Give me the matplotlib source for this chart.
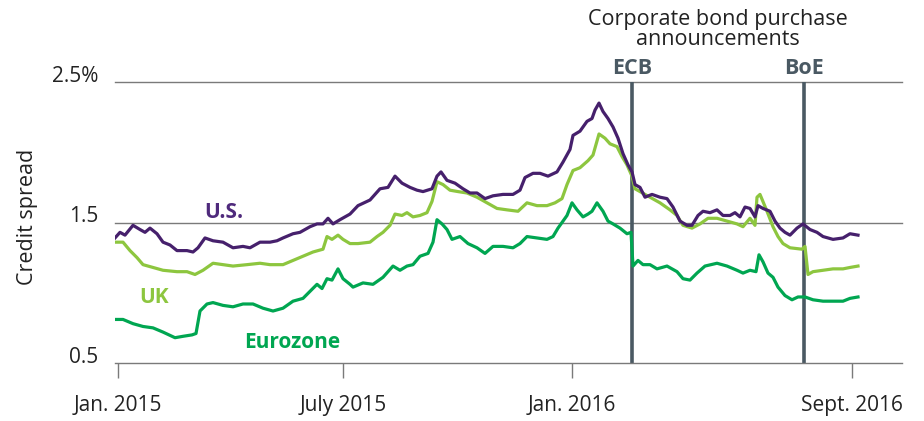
import numpy as np
import matplotlib
matplotlib.use("Agg")
import matplotlib.pyplot as plt

# chart position (the source axis is not date-linear), values in %
us_t = [-3, 2, 7, 15, 22, 27, 32, 39, 45, 52, 59, 69, 75, 80, 87, 95, 105, 115, 125, 132,
        142, 152, 159, 165, 175, 182, 192, 199, 205, 210, 215, 222, 232, 240, 252, 262, 270,
        277, 284, 292, 299, 305, 314, 319, 323, 329, 337, 345, 352, 359, 367, 375, 385, 395,
        402, 407, 415, 422, 430, 439, 445, 452, 455, 462, 469, 474, 477, 481, 485, 490, 495,
        500, 505, 510, 514, 517, 522, 527, 534, 542, 549, 555, 562, 569, 574, 580, 585, 592,
        599, 605, 612, 617, 622, 627, 632, 637, 640, 645, 652, 657, 662, 667, 672, 679, 685,
        692, 699, 705, 715, 725, 732, 740]
us_v = [1.39, 1.43, 1.41, 1.48, 1.45, 1.43, 1.46, 1.42, 1.36, 1.34, 1.30, 1.30, 1.29, 1.32,
        1.39, 1.37, 1.36, 1.32, 1.33, 1.32, 1.36, 1.36, 1.37, 1.39, 1.42, 1.43, 1.47, 1.49,
        1.49, 1.53, 1.49, 1.52, 1.56, 1.62, 1.66, 1.74, 1.75, 1.83, 1.78, 1.75, 1.73, 1.72,
        1.74, 1.83, 1.86, 1.80, 1.78, 1.74, 1.71, 1.71, 1.67, 1.69, 1.70, 1.70, 1.73, 1.82,
        1.85, 1.85, 1.83, 1.86, 1.93, 2.02, 2.12, 2.15, 2.22, 2.24, 2.30, 2.35, 2.29, 2.24,
        2.18, 2.10, 1.99, 1.91, 1.86, 1.77, 1.75, 1.68, 1.70, 1.68, 1.67, 1.61, 1.51, 1.48,
        1.48, 1.55, 1.58, 1.57, 1.59, 1.55, 1.55, 1.57, 1.54, 1.61, 1.60, 1.54, 1.62, 1.60,
        1.58, 1.51, 1.46, 1.43, 1.41, 1.46, 1.49, 1.45, 1.43, 1.40, 1.38, 1.39, 1.42, 1.41]

uk_t = [-3, 5, 12, 19, 25, 35, 45, 59, 69, 77, 85, 95, 105, 115, 129, 142, 152, 165, 175, 185,
        195, 205, 209, 214, 220, 225, 232, 240, 252, 259, 265, 272, 277, 284, 289, 295, 302,
        309, 314, 319, 325, 332, 340, 349, 359, 369, 379, 389, 400, 409, 419, 429, 437, 444,
        449, 455, 462, 470, 475, 479, 481, 487, 492, 499, 504, 509, 514, 517, 522, 532, 542,
        552, 559, 565, 574, 582, 590, 599, 609, 619, 625, 632, 637, 639, 642, 649, 655, 660,
        665, 672, 684, 687, 690, 695, 705, 715, 725, 732, 740]
uk_v = [1.36, 1.36, 1.30, 1.25, 1.20, 1.18, 1.16, 1.15, 1.15, 1.13, 1.16, 1.21, 1.20, 1.19,
        1.20, 1.21, 1.20, 1.20, 1.23, 1.26, 1.29, 1.31, 1.40, 1.38, 1.41, 1.38, 1.35, 1.35,
        1.36, 1.40, 1.43, 1.48, 1.56, 1.55, 1.57, 1.54, 1.55, 1.57, 1.65, 1.79, 1.77, 1.73,
        1.72, 1.71, 1.68, 1.64, 1.60, 1.59, 1.58, 1.64, 1.62, 1.62, 1.64, 1.67, 1.77, 1.87,
        1.89, 1.94, 1.98, 2.08, 2.13, 2.10, 2.06, 2.04, 1.97, 1.91, 1.83, 1.74, 1.72, 1.68,
        1.64, 1.59, 1.55, 1.48, 1.46, 1.49, 1.53, 1.53, 1.51, 1.49, 1.47, 1.53, 1.48, 1.68,
        1.70, 1.58, 1.47, 1.40, 1.35, 1.32, 1.31, 1.33, 1.13, 1.15, 1.16, 1.17, 1.17, 1.18, 1.19]

ez_t = [-3, 5, 15, 25, 35, 45, 57, 65, 74, 78, 82, 89, 95, 105, 115, 125, 135, 145, 155, 165,
        175, 185, 192, 199, 204, 209, 214, 220, 225, 232, 235, 245, 255, 265, 275, 282, 289,
        295, 302, 310, 315, 319, 324, 329, 334, 342, 350, 359, 367, 375, 385, 395, 402, 409,
        419, 429, 435, 440, 449, 454, 459, 465, 470, 474, 479, 485, 490, 495, 502, 509, 513,
        515, 520, 525, 532, 539, 549, 559, 565, 572, 579, 587, 599, 609, 619, 625, 632, 638,
        641, 645, 650, 655, 660, 667, 674, 680, 687, 695, 705, 715, 725, 732, 740]
ez_v = [0.81, 0.81, 0.78, 0.76, 0.75, 0.72, 0.68, 0.69, 0.70, 0.71, 0.87, 0.92, 0.93, 0.91,
        0.90, 0.92, 0.92, 0.89, 0.87, 0.89, 0.94, 0.96, 1.01, 1.06, 1.03, 1.10, 1.09, 1.17,
        1.10, 1.06, 1.04, 1.07, 1.06, 1.11, 1.19, 1.16, 1.19, 1.20, 1.26, 1.28, 1.36, 1.52,
        1.49, 1.45, 1.38, 1.40, 1.35, 1.32, 1.28, 1.33, 1.33, 1.32, 1.35, 1.40, 1.39, 1.38,
        1.40, 1.46, 1.55, 1.64, 1.59, 1.54, 1.56, 1.58, 1.64, 1.58, 1.51, 1.49, 1.46, 1.42,
        1.43, 1.19, 1.23, 1.20, 1.20, 1.17, 1.19, 1.15, 1.10, 1.09, 1.14, 1.19, 1.21, 1.19,
        1.16, 1.14, 1.16, 1.15, 1.27, 1.22, 1.14, 1.11, 1.04, 0.98, 0.95, 0.97, 0.97, 0.95,
        0.94, 0.94, 0.94, 0.96, 0.97]

tick_pos = [0, 225, 454, 734]
tick_labels = ["Jan. 2015", "July 2015", "Jan. 2016", "Sept. 2016"]
y_ticks = [0.5, 1.5, 2.5]
y_labels = ["0.5", "1.5", "2.5%"]
events = {"ECB": 514, "BoE": 686}

US_C = "#46206c"
UK_C = "#8dc63f"
EZ_C = "#00a651"
EV_C = "#4a5963"
GRID_C = "#7a7a7a"
TXT_C = "#222222"

plt.rcParams["font.family"] = ["Open Sans", "DejaVu Sans"]

fig = plt.figure(figsize=(9.24, 4.21), dpi=100)
ax = fig.add_axes([115 / 924, 58 / 421, 787 / 924, 281 / 421])
ax.set_xlim(-3, 784)
ax.set_ylim(0.5, 2.5)

for s in ["top", "right", "left"]:
    ax.spines[s].set_visible(False)
ax.spines["bottom"].set_color(GRID_C)
ax.spines["bottom"].set_linewidth(1)

for y in [1.5, 2.5]:
    ax.axhline(y, color=GRID_C, lw=1, zorder=1, clip_on=False)

for name, x in events.items():
    ax.axvline(x, color=EV_C, lw=2.6, zorder=2)
    ax.text(x, 2.557, name, ha="center", va="baseline", fontsize=15.5,
            fontweight="bold", color=EV_C)

ax.plot(ez_t, ez_v, color=EZ_C, lw=2.3, zorder=3, solid_joinstyle="round")
ax.plot(uk_t, uk_v, color=UK_C, lw=2.3, zorder=4, solid_joinstyle="round")
ax.plot(us_t, us_v, color=US_C, lw=2.3, zorder=5, solid_joinstyle="round")

ax.text(106, 1.53, "U.S.", color="#4f2a7c", fontsize=15, fontweight="bold", ha="center", va="baseline")
ax.text(36, 0.93, "UK", color=UK_C, fontsize=15, fontweight="bold", ha="center", va="baseline")
ax.text(174, 0.61, "Eurozone", color=EZ_C, fontsize=15, fontweight="bold", ha="center", va="baseline")

ax.text(600, 2.906, "Corporate bond purchase", ha="center", va="baseline",
        fontsize=15.5, color=TXT_C)
ax.text(600, 2.763, "announcements", ha="center", va="baseline",
        fontsize=15.5, color=TXT_C)

ax.set_xticks(tick_pos)
ax.set_xticklabels(tick_labels, fontsize=15, color=TXT_C)
ax.tick_params(axis="x", length=11, width=1, color=GRID_C, pad=12)

ax.set_yticks(y_ticks)
ax.set_yticklabels(y_labels, fontsize=15, color=TXT_C)
ax.tick_params(axis="y", length=0, pad=12)
for lab in ax.get_yticklabels():
    lab.set_verticalalignment("baseline")

fig.text(27 / 924, 1 - 217 / 421, "Credit spread", rotation=90, ha="center", va="center",
         fontsize=15.5, color=TXT_C)

fig.savefig("out.png", dpi=100)
